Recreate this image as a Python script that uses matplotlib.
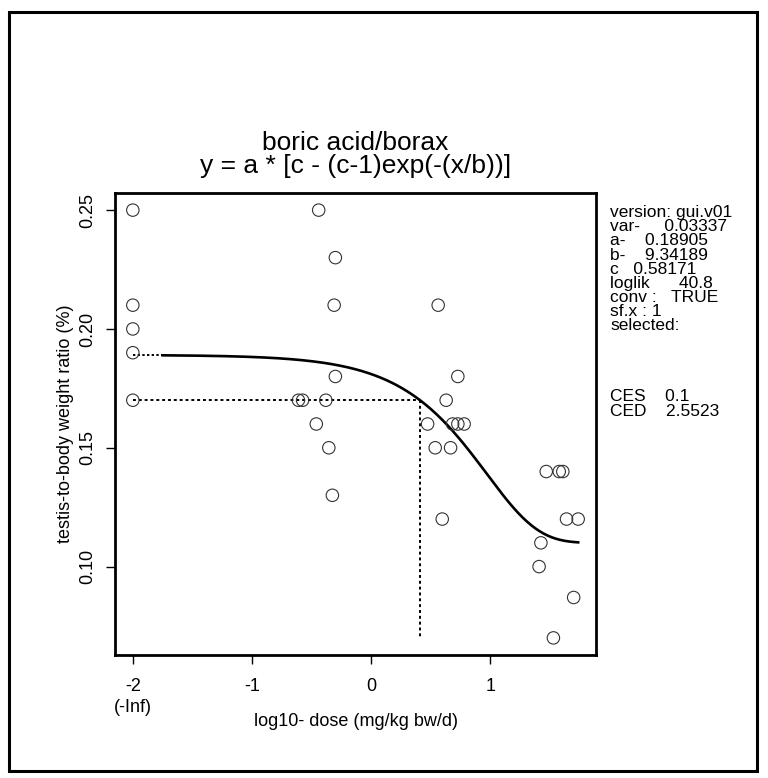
import numpy as np
import matplotlib.pyplot as plt
from matplotlib.patches import Rectangle
from matplotlib.transforms import blended_transform_factory

plt.rcParams['font.family'] = ['Liberation Sans', 'DejaVu Sans']

# observed data: log10 dose (controls drawn at -2 = -Inf) and testis weight ratio
log_dose = [-2, -2, -2, -2, -2,
            -0.61, -0.575, -0.44, -0.38, -0.46, -0.355, -0.325, -0.30, -0.31, -0.30,
            0.563, 0.728, 0.63, 0.474, 0.684, 0.728, 0.781, 0.538, 0.667, 0.597,
            1.47, 1.579, 1.609, 1.64, 1.738, 1.425, 1.41, 1.70, 1.53]
ratio = [0.25, 0.21, 0.20, 0.19, 0.17,
         0.17, 0.17, 0.25, 0.17, 0.16, 0.15, 0.13, 0.23, 0.21, 0.18,
         0.21, 0.18, 0.17, 0.16, 0.16, 0.16, 0.16, 0.15, 0.15, 0.12,
         0.14, 0.14, 0.14, 0.12, 0.12, 0.11, 0.10, 0.087, 0.07]

# fitted model parameters
a = 0.18905
b = 9.34189
c = 0.58171
ces = 0.1
ced = 2.5523
curve_start = -1.75   # first log-dose of the drawn curve

x_ticks = [-2, -1, 0, 1]
y_ticks = [0.10, 0.15, 0.20, 0.25]

title_lines = ["boric acid/borax", "y = a * [c - (c-1)exp(-(x/b))]"]

info_lines = ["version: gui.v01",
              "var-     0.03337",
              "a-    0.18905",
              "b-    9.34189",
              "c   0.58171",
              "loglik      40.8",
              "conv :   TRUE",
              "sf.x : 1",
              "selected:",
              "", "", "", "",
              "CES    0.1",
              "CED    2.5523"]

W, H = 768, 778
fig = plt.figure(figsize=(W / 100, H / 100), dpi=100)
ax = fig.add_axes([115 / W, 1 - 655 / H, (596 - 115) / W, (655 - 193) / H])

# outer frame
fig.patches.append(Rectangle((8.5 / W, 1 - 771 / H), (757 - 8.5) / W, (771 - 12) / H,
                             transform=fig.transFigure, fill=False, lw=2.2,
                             edgecolor='black'))

# model curve
xc = np.linspace(curve_start, max(log_dose), 300)
dose = 10 ** xc
yc = a * (c - (c - 1) * np.exp(-(dose / b)))
ax.plot(xc, yc, color='black', lw=1.9, zorder=3)
ax.plot([-2, curve_start], [a, a], color='black', lw=1.4,
        linestyle=(0, (1.2, 1.2)), zorder=3)

# CED lines
y_ces = a * (1 - ces)
x_ced = np.log10(ced)
ax.plot([-2, x_ced], [y_ces, y_ces], color='black', lw=1.4,
        linestyle=(0, (1.5, 1.5)), zorder=2)
ax.plot([x_ced, x_ced], [y_ces, min(ratio)], color='black', lw=1.4,
        linestyle=(0, (1.5, 1.5)), zorder=2)

# data points
ax.scatter(log_dose, ratio, s=80, facecolors='none', edgecolors='#333333',
           linewidths=0.8, zorder=4)

xr = max(log_dose) - min(log_dose)
yr = max(ratio) - min(ratio)
ax.set_xlim(min(log_dose) - 0.04 * xr, max(log_dose) + 0.04 * xr)
ax.set_ylim(min(ratio) - 0.04 * yr, max(ratio) + 0.04 * yr)

ax.set_xticks(x_ticks)
ax.set_xticklabels([str(t) for t in x_ticks])
ax.set_yticks(y_ticks)
ax.set_yticklabels(["%.2f" % t for t in y_ticks])
ax.tick_params(axis='both', length=6.5, width=1.0, labelsize=13, color='black')
ax.tick_params(axis='x', pad=10)
ax.tick_params(axis='y', pad=7)
plt.setp(ax.get_yticklabels(), rotation=90, va='center')
for sp in ax.spines.values():
    sp.set_linewidth(2.0)

trans = blended_transform_factory(ax.transData, ax.transAxes)
ax.text(-2, -(708 - 655) / 462, "(-Inf)", transform=trans, ha='center',
        va='center', fontsize=13)

ax.set_xlabel("log10- dose (mg/kg bw/d)", fontsize=13)
ax.xaxis.set_label_coords(0.5, -(722 - 655) / 462)
ax.xaxis.label.set_va('center')
ax.set_ylabel("testis-to-body weight ratio (%)", fontsize=13)
ax.yaxis.set_label_coords(-(115 - 65) / 481, 0.5)
ax.yaxis.label.set_va('center')

# title (two lines in one text)
fig.text(355.5 / W, 1 - 131 / H, "\n".join(title_lines), ha='center', va='top',
         fontsize=19, linespacing=0.93, multialignment='center')

# info text as one block
fig.text(610 / W, 1 - 205 / H, "\n".join(info_lines), ha='left', va='top',
         fontsize=12.5, linespacing=0.932)

fig.savefig("out.png", dpi=100)
